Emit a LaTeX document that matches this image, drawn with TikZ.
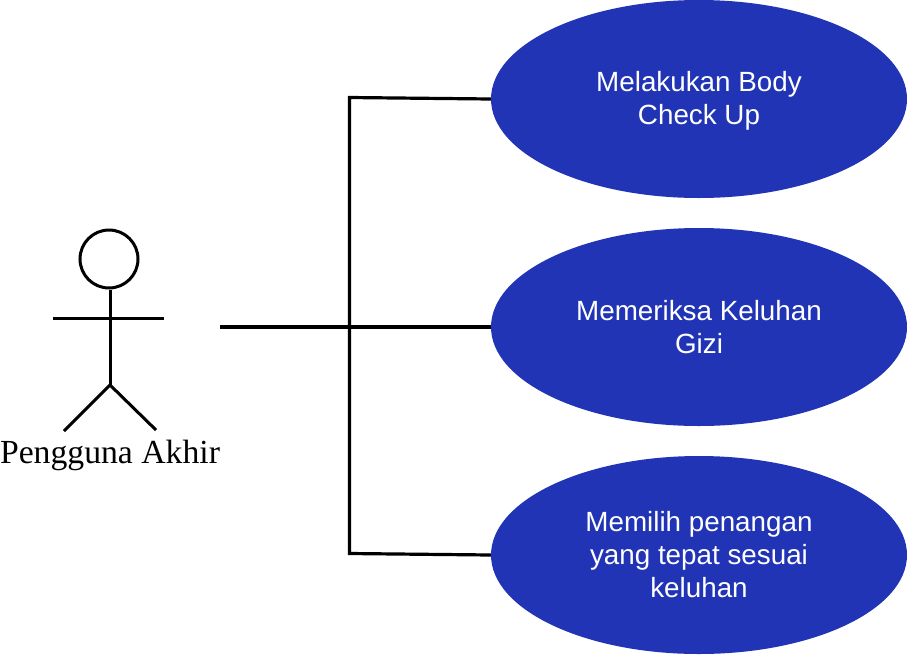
\documentclass[tikz,border=0pt]{standalone}
\usepackage{fontspec}
\setmainfont{Liberation Serif}
\newfontfamily\uifont{Liberation Sans}
\usetikzlibrary{shapes.geometric}
\definecolor{ucblue}{HTML}{2034B5}
\tikzset{
  x=1pt,y=-1pt,
  usecase/.style={ellipse,fill=ucblue,minimum width=416pt,minimum height=198pt,inner sep=0pt,text=white,align=center,font=\uifont\fontsize{27.8}{33}\selectfont},
  wire/.style={draw=black,line width=3.2pt,line join=miter},
  actorline/.style={draw=black,line width=3pt}
}
\begin{document}
\begin{tikzpicture}
\useasboundingbox (0,0) rectangle (907,654);
\node[usecase] (a) at (699,99) {\rule{0pt}{23.5pt}Melakukan Body\\Check Up};
\node[usecase] (b) at (699,327) {Memeriksa Keluhan\\Gizi};
\node[usecase] (c) at (699,555) {Memilih penangan\\yang tepat sesuai\\keluhan};
\coordinate (start) at (220,327);
\coordinate (tr) at (349.5,97.5);
\coordinate (br) at (349.5,553.5);
\draw[wire] (start) -- (b.west);
\draw[wire] (a.west) -- (tr) -- (br) -- (c.west);
\node[circle,draw=black,line width=3pt,minimum size=58pt,inner sep=0pt] (head) at (109,259) {};
\coordinate (hip) at (110,385);
\coordinate (arml) at (53,318);
\coordinate (armr) at (164,318);
\coordinate (legl) at (64,431);
\coordinate (legr) at (156,430);
\draw[actorline] (head.south -| hip) -- (hip);
\draw[actorline] (arml) -- (armr);
\draw[actorline] (legl) -- (hip) -- (legr);
\node[font=\fontsize{33.7}{38}\selectfont,inner sep=0pt] (label) at (110,455) {Pengguna Akhir};
\end{tikzpicture}
\end{document}
